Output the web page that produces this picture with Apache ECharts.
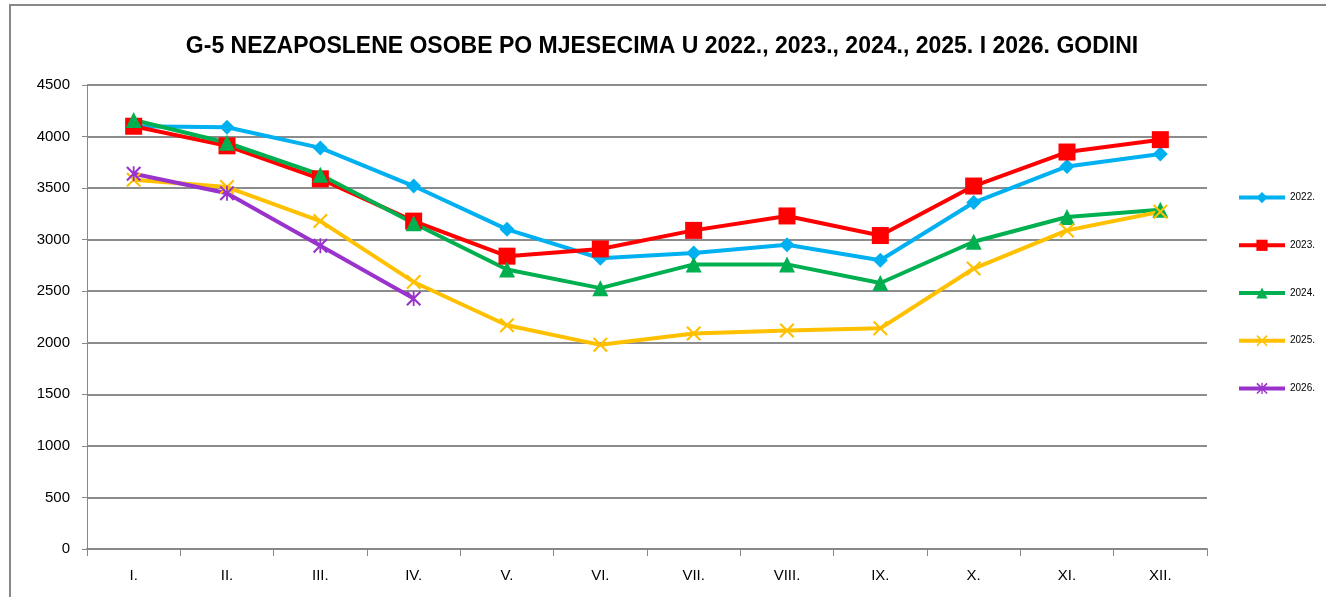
<!DOCTYPE html>
<html>
<head>
<meta charset="utf-8">
<script src="https://cdn.jsdelivr.net/npm/echarts@6/dist/echarts.min.js"></script>
<style>
  html, body { margin: 0; padding: 0; background: #fff; }
  #chart { width: 1326px; height: 597px; }
</style>
</head>
<body>
<div id="chart"></div>
<script>
// months
const months = ['I.', 'II.', 'III.', 'IV.', 'V.', 'VI.', 'VII.', 'VIII.', 'IX.', 'X.', 'XI.', 'XII.']

// unemployed persons per month
const y2022 = [4100, 4090, 3890, 3520, 3100, 2820, 2870, 2950, 2800, 3360, 3710, 3830]
const y2023 = [4100, 3910, 3590, 3180, 2840, 2910, 3090, 3230, 3040, 3520, 3850, 3970]
const y2024 = [4160, 3940, 3630, 3160, 2710, 2530, 2760, 2760, 2580, 2980, 3220, 3290]
const y2025 = [3580, 3510, 3180, 2590, 2170, 1980, 2090, 2120, 2140, 2720, 3090, 3270]
const y2026 = [3640, 3450, 2940, 2430]

const seriesNames = ['2022.', '2023.', '2024.', '2025.', '2026.']

const crossPath = 'path://M0,1L1,0L5,4L9,0L10,1L6,5L10,9L9,10L5,6L1,10L0,9L4,5Z'
const starPath = 'path://M0,1L1,0L5,4L9,0L10,1L6,5L10,9L9,10L5,6L1,10L0,9L4,5Z M4.4,0L5.6,0L5.6,10L4.4,10Z'

const chart = echarts.init(document.getElementById('chart'))

function line(name, data, color, symbol, symbolSize) {
  return {
    name: name,
    type: 'line',
    data: data,
    symbol: symbol,
    symbolSize: symbolSize,
    lineStyle: { color: color, width: 4 },
    itemStyle: { color: color },
    emphasis: { disabled: true }
  }
}

chart.setOption({
  animation: false,
  backgroundColor: '#fff',
  title: {
    text: 'G-5 NEZAPOSLENE OSOBE PO MJESECIMA U 2022., 2023., 2024., 2025. I 2026. GODINI',
    left: 657,
    top: 30,
    textAlign: 'center',
    textStyle: {
      fontFamily: '"Liberation Sans", sans-serif',
      fontSize: 23,
      fontWeight: 'bold',
      color: '#000'
    }
  },
  graphic: [{
    type: 'rect',
    shape: { x: 10, y: 5, width: 1340, height: 620 },
    style: { fill: 'none', stroke: '#888', lineWidth: 2 },
    silent: true
  }],
  legend: {
    orient: 'vertical',
    left: 1232,
    top: 187,
    itemGap: 36.5,
    itemWidth: 46,
    itemHeight: 14,
    data: seriesNames,
    lineStyle: { width: 4 },
    itemStyle: { borderWidth: 0 },
    textStyle: { fontSize: 10, color: '#000', fontFamily: '"Liberation Sans", sans-serif' }
  },
  grid: { left: 87, right: 119, top: 85, bottom: 48 },
  xAxis: {
    type: 'category',
    data: months,
    boundaryGap: true,
    axisLine: { lineStyle: { color: '#888', width: 2 } },
    axisTick: { show: true, length: 7, lineStyle: { color: '#888' } },
    axisLabel: { color: '#000', fontSize: 15, margin: 19, fontFamily: '"Liberation Sans", sans-serif' }
  },
  yAxis: {
    type: 'value',
    min: 0,
    max: 4500,
    interval: 500,
    axisLine: { show: true, lineStyle: { color: '#888', width: 1 } },
    axisTick: { show: true, length: 5, lineStyle: { color: '#888' } },
    axisLabel: { color: '#000', fontSize: 15, margin: 17, formatter: function (v) { return String(v) }, fontFamily: '"Liberation Sans", sans-serif' },
    splitLine: { lineStyle: { color: '#8c8c8c', width: 2 } }
  },
  series: [
    line('2022.', y2022, '#00b0f0', 'diamond', 15),
    line('2023.', y2023, '#ff0000', 'rect', 17),
    line('2024.', y2024, '#00b050', 'triangle', 16),
    line('2025.', y2025, '#ffc000', crossPath, 15),
    line('2026.', y2026, '#9933cc', starPath, 15)
  ]
})
</script>
</body>
</html>
